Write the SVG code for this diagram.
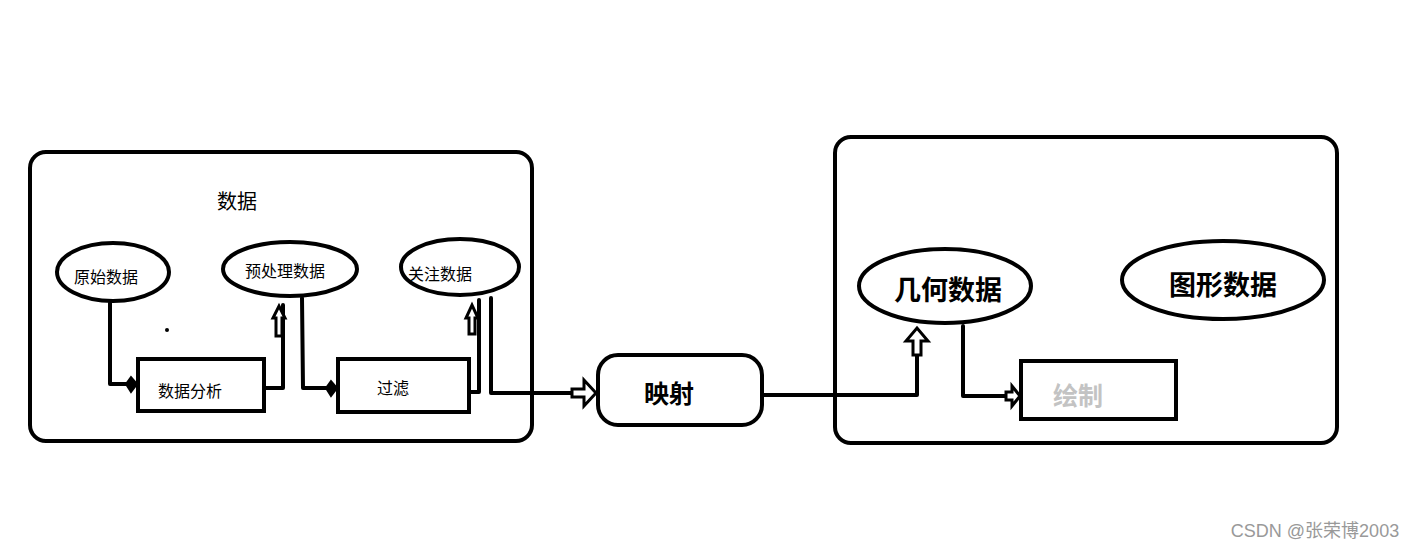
<svg xmlns="http://www.w3.org/2000/svg" width="1419" height="552" viewBox="0 0 1419 552">
<style>
.box{fill:none;stroke:#000;stroke-width:4}
.ln{fill:none;stroke:#000;stroke-width:4;stroke-linejoin:round;stroke-linecap:round}
.ha{fill:#fff;stroke:#000;stroke-width:3;stroke-linejoin:miter}
.fa{fill:#000;stroke:#000;stroke-width:2}
text{font-family:"Noto Sans CJK SC","Liberation Sans",sans-serif;text-anchor:middle;dominant-baseline:central;fill:#000}
.s{font-size:16px}
.b{font-weight:bold;font-size:25px}
</style>
<rect width="1419" height="552" fill="#fff"/>
<g id="container-left"><rect class="box" x="30" y="152" width="502" height="289" rx="16"/><text x="237" y="200" style="font-size:20px">数据</text></g>
<g id="container-right"><rect class="box" x="835" y="137" width="502" height="306" rx="16"/></g>
<g id="n-raw"><ellipse class="box" cx="113" cy="272" rx="56" ry="29"/><text class="s" x="106" y="276">原始数据</text></g>
<g id="n-pre"><ellipse class="box" cx="290" cy="269" rx="67" ry="27"/><text class="s" x="285" y="270">预处理数据</text></g>
<g id="n-focus"><ellipse class="box" cx="460" cy="267" rx="59" ry="28"/><text class="s" x="440" y="273">关注数据</text></g>
<g id="n-analysis"><rect class="box" x="138" y="359" width="126" height="52"/><text class="s" x="190" y="390">数据分析</text></g>
<g id="n-filter"><rect class="box" x="338" y="359" width="131" height="53"/><text class="s" x="393" y="387">过滤</text></g>
<g id="n-map"><rect class="box" x="598" y="355" width="164" height="70" rx="20"/><text class="b" x="669" y="392">映射</text></g>
<g id="n-geo"><ellipse class="box" cx="945" cy="286" rx="86" ry="37"/><text class="b" x="948" y="288" style="font-size:27px">几何数据</text></g>
<g id="n-graphic"><ellipse class="box" cx="1223" cy="280" rx="101" ry="39"/><text class="b" x="1223" y="283" style="font-size:27px">图形数据</text></g>
<g id="n-draw"><rect class="box" x="1021" y="361" width="155" height="58"/><text class="b" x="1078" y="394" style="fill:#c3c3c3">绘制</text></g>
<circle cx="167" cy="330" r="2" fill="#000"/>
<g id="connectors">
<polyline class="ln" points="110,303 110,384 128,384"/>
<polygon class="fa" points="126,384 131,377 137,384 131,392"/>
<polyline class="ln" points="266,388 283,388 283,305"/>
<polygon class="ha" points="276,336 276,318 273,318 279,306 285,318 282,318 282,336"/>
<polyline class="ln" points="302,298 303,388 328,388"/>
<polygon class="fa" points="326,388 331,381 337,388 331,396"/>
<polyline class="ln" points="471,392 479,392 479,300"/>
<polygon class="ha" points="469,334 469,318 466,318 472,305 478,318 475,318 475,334"/>
<polyline class="ln" points="491,298 491,393 572,393"/>
<polygon class="ha" points="572,389 584,389 584,380 596,393 584,406 584,397 572,397"/>
<polyline class="ln" points="762,395 917,395 917,355"/>
<polygon class="ha" points="913,355 913,341 906,341 917,328 928,341 921,341 921,355"/>
<polyline class="ln" points="963,326 963,396 1006,396"/>
<polygon class="ha" points="1006,392 1012,392 1012,386 1020,396 1012,406 1012,400 1006,400"/>
</g>
<text x="1315" y="531" style="font-size:18px;fill:#999;font-family:'Liberation Sans','Noto Sans CJK SC',sans-serif">CSDN @张荣博2003</text>
</svg>
